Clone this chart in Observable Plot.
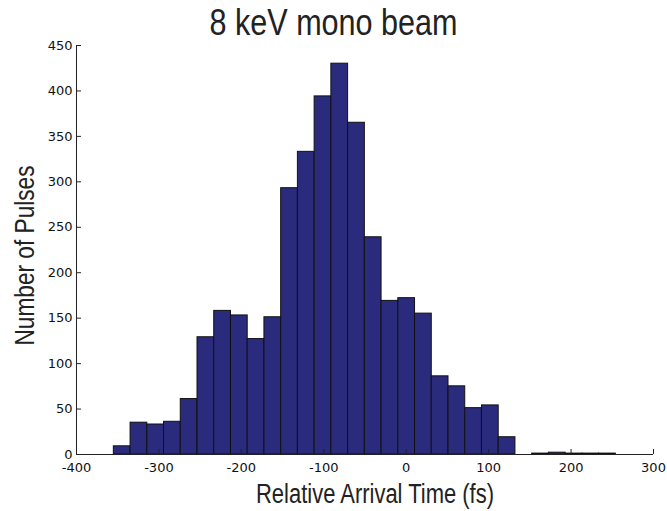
<!DOCTYPE html>
<html><head><meta charset="utf-8">
<script src="https://cdn.jsdelivr.net/npm/d3@7"></script>
<script src="https://cdn.jsdelivr.net/npm/@observablehq/plot@0.6"></script>
<style>body{margin:0;background:#fff}</style>
</head><body><div id="chart"></div>
<script>
const binEdges = [-354.7,-334.4,-314.1,-293.8,-273.5,-253.2,-232.9,-212.6,-192.3,-172.0,-151.7,-131.4,-111.1,-90.8,-70.5,-50.2,-29.9,-9.6,10.7,31.0,51.3,71.6,91.9,112.2,132.5,152.8,173.1,193.4,213.7,234.0,254.3];
const counts = [9,35,33,36,61,129,158,153,127,151,293,333,394,430,365,239,169,172,155,86,75,51,54,19,0,1,2,1,1,1];
const xTicks = [-400,-300,-200,-100,0,100,200,300];
const yTicks = [0,50,100,150,200,250,300,350,400,450];
const titleText = "8 keV mono beam";
const xLabel = "Relative Arrival Time (fs)";
const yLabel = "Number of Pulses";

const bins = counts.map((c, i) => ({x1: binEdges[i], x2: binEdges[i + 1], count: c})).filter(d => d.count > 0);
const labelFont = "Liberation Sans, Arial, sans-serif";

const chart = Plot.plot({
  width: 667,
  height: 511,
  marginLeft: 76,
  marginRight: 14,
  marginTop: 45,
  marginBottom: 57,
  style: {fontFamily: "DejaVu Sans, sans-serif", fontSize: "13px", color: "#111", background: "#fff"},
  x: {domain: [-400, 300]},
  y: {domain: [0, 450]},
  marks: [
    Plot.rectY(bins, {x1: "x1", x2: "x2", y: "count", fill: "#2a2b7d", stroke: "#111", strokeWidth: 1}),
    Plot.ruleX([-400], {stroke: "#222"}),
    Plot.ruleY([0], {stroke: "#222"}),
    Plot.axisX(xTicks, {tickSize: -5, tickPadding: 13, tickFormat: d => String(d), label: null, stroke: "#222"}),
    Plot.axisY(yTicks, {tickSize: -5, tickPadding: 9, tickFormat: d => String(d), label: null, stroke: "#222"}),
    Plot.text([titleText], {frameAnchor: "top", lineAnchor: "middle", textAnchor: "middle", dx: -31.5, dy: -22, fontSize: 37, fontFamily: labelFont, fill: "#222"}),
    Plot.text([xLabel], {frameAnchor: "bottom", lineAnchor: "middle", textAnchor: "middle", dx: 10, dy: 40, fontSize: 27, fontFamily: labelFont, fill: "#222"}),
    Plot.text([yLabel], {frameAnchor: "left", lineAnchor: "middle", textAnchor: "middle", rotate: -90, dx: -51, dy: 5.5, fontSize: 27, fontFamily: labelFont, fill: "#222"})
  ]
});
document.getElementById("chart").appendChild(chart);
// condensed look of the original labels
const squeeze = {[titleText]: 248, [xLabel]: 238, [yLabel]: 180};
d3.select(chart).selectAll("text").each(function() {
  const t = this.textContent;
  if (squeeze[t]) {
    this.setAttribute("textLength", squeeze[t]);
    this.setAttribute("lengthAdjust", "spacingAndGlyphs");
  }
});
</script>
</body></html>
